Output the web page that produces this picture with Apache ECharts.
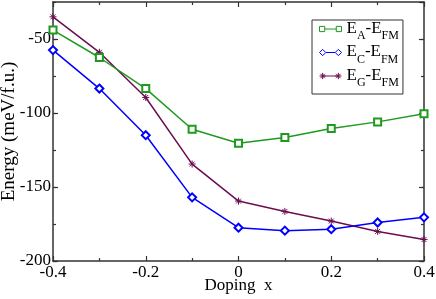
<!DOCTYPE html>
<html><head><meta charset="utf-8">
<script src="https://cdn.jsdelivr.net/npm/echarts@6/dist/echarts.min.js"></script>
<style>html,body{margin:0;padding:0;background:#fff}#c{width:436px;height:299px}</style>
</head><body><div id="c"></div>
<script>
const dopingX = [-0.4, -0.3, -0.2, -0.1, 0, 0.1, 0.2, 0.3, 0.4];
const energyA = [-44, -62.5, -83.5, -111, -120.5, -116.5, -110.5, -106, -100.5];
const energyC = [-57.5, -83.5, -115, -157, -177.5, -179.5, -178.5, -174, -170.5];
const energyG = [-35, -59, -89.5, -134.5, -159.5, -166.5, -173, -180, -185.5];
const seriesNames = ['EA-EFM', 'EC-EFM', 'EG-EFM'];
const subscripts = ['A', 'C', 'G'];
const xTickLabels = ['-0.4', '-0.2', '0', '0.2', '0.4'];
const yTickLabels = ['-200', '-150', '-100', '-50'];

const colors = ['#1e9a1e', '#0000ff', '#6b0d4f'];
const serif = 'Liberation Serif';
const starPath = 'path://M5,0V10M0,5H10M1.5,1.5L8.5,8.5M8.5,1.5L1.5,8.5';
const legendIcons = [
  'path://M0.5,1h5v5h-5zM5.5,3.5H16.5M16.5,1h5v5h-5z',
  'path://M0.5,3.5L3.5,0.5L6.5,3.5L3.5,6.5zM6.5,3.5H15.5M15.5,3.5L18.5,0.5L21.5,3.5L18.5,6.5z',
  'path://M3.5,0.5V6.5M0.5,3.5H6.5M1.4,1.4L5.6,5.6M5.6,1.4L1.4,5.6M3.5,3.5H18.5M18.5,0.5V6.5M15.5,3.5H21.5M16.4,1.4L20.6,5.6M20.6,1.4L16.4,5.6'
];
const dataSets = [energyA, energyC, energyG];
const symbols = ['emptyRect', 'emptyDiamond', starPath];
const symbolSizes = [7, 8, 7];

const frameLine = {show: true, onZero: false, lineStyle: {color: '#333', width: 1.5}};
const tickStyle = {color: '#333', width: 1.2};
function pairs(ys) { return dopingX.map((x, i) => [x, ys[i]]); }

const chart = echarts.init(document.getElementById('c'), null, {renderer: 'canvas'});
chart.setOption({
  animation: false,
  grid: {left: 53, right: 12, top: 2, bottom: 38, containLabel: false, outerBoundsMode: 'none'},
  xAxis: [
    {type: 'value', position: 'bottom', min: -0.4, max: 0.4, interval: 0.2,
     axisLine: frameLine, splitLine: {show: false},
     axisTick: {inside: true, length: 5, lineStyle: tickStyle},
     minorTick: {show: true, splitNumber: 2, length: 3, lineStyle: tickStyle},
     axisLabel: {margin: 3, color: '#000', fontFamily: serif, fontSize: 17,
       formatter: v => { const i = xTickLabels.findIndex(t => Math.abs(parseFloat(t) - v) < 1e-9); return i >= 0 ? xTickLabels[i] : ''; }},
     name: 'Doping  x', nameLocation: 'middle', nameGap: 16, nameMoveOverlap: false,
     nameTextStyle: {color: '#000', fontFamily: serif, fontSize: 17}},
    {type: 'value', position: 'top', min: -0.4, max: 0.4, interval: 0.2,
     axisLine: frameLine, splitLine: {show: false}, axisLabel: {show: false},
     axisTick: {inside: true, length: 5, lineStyle: tickStyle},
     minorTick: {show: true, splitNumber: 2, length: 3, lineStyle: tickStyle}}
  ],
  yAxis: [
    {type: 'value', position: 'left', min: -200, max: -25, interval: 50,
     axisLine: frameLine, splitLine: {show: false},
     axisTick: {inside: true, length: 5, lineStyle: tickStyle},
     axisLabel: {margin: 2, color: '#000', fontFamily: serif, fontSize: 17, showMaxLabel: false,
       formatter: v => { const i = yTickLabels.findIndex(t => parseFloat(t) === v); return i >= 0 ? yTickLabels[i] : ''; }},
     name: 'Energy (meV/f.u.)', nameLocation: 'middle', nameGap: 34, nameMoveOverlap: false,
     nameTextStyle: {color: '#000', fontFamily: serif, fontSize: 19}},
    {type: 'value', position: 'right', min: -200, max: -25, interval: 50,
     axisLine: frameLine, splitLine: {show: false}, axisLabel: {show: false},
     axisTick: {inside: true, length: 5, lineStyle: tickStyle}},
    {type: 'value', position: 'left', min: -200, max: -25, interval: 25,
     axisLine: {show: false, onZero: false}, splitLine: {show: false}, axisLabel: {show: false},
     axisTick: {inside: true, length: 3, lineStyle: tickStyle}},
    {type: 'value', position: 'right', min: -200, max: -25, interval: 25,
     axisLine: {show: false, onZero: false}, splitLine: {show: false}, axisLabel: {show: false},
     axisTick: {inside: true, length: 3, lineStyle: tickStyle}}
  ],
  legend: {
    orient: 'vertical', left: 312, top: 20,
    padding: [0, 4, 5, 5], itemGap: 1.5, itemWidth: 22, itemHeight: 7,
    borderColor: '#333', borderWidth: 1, backgroundColor: '#fff',
    data: seriesNames.map((n, i) => ({name: n, icon: legendIcons[i],
      itemStyle: {color: 'none', borderColor: colors[i], borderWidth: 1}})),
    formatter: n => { const i = seriesNames.indexOf(n); return '{m|E}{s|' + subscripts[i] + '}{m|-E}{s|FM}'; },
    textStyle: {rich: {
      m: {fontFamily: serif, fontSize: 17, color: '#000', lineHeight: 18, verticalAlign: 'top'},
      s: {fontFamily: serif, fontSize: 12, color: '#000', lineHeight: 12, verticalAlign: 'top', padding: [10, 0, 0, 0]}
    }}
  },
  series: dataSets.map((d, i) => ({
    name: seriesNames[i], type: 'line', xAxisIndex: 0, yAxisIndex: 0,
    data: pairs(d), symbol: symbols[i], symbolSize: symbolSizes[i],
    lineStyle: {color: colors[i], width: 1.5},
    itemStyle: {color: colors[i], borderColor: colors[i], borderWidth: 1},
    z: 3 - i
  }))
});
</script></body></html>
